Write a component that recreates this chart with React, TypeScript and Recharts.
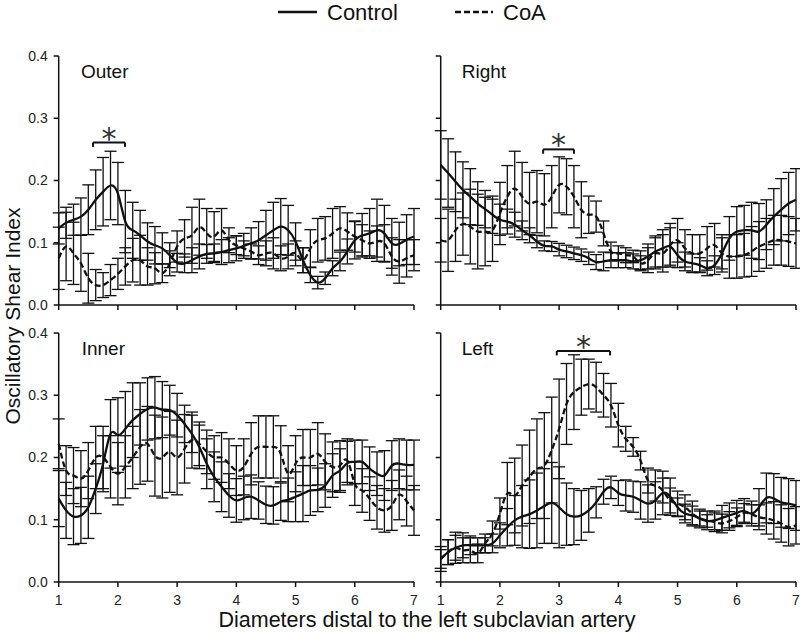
import { LineChart, Line, XAxis, YAxis, ErrorBar, ReferenceLine } from "recharts";

const FONT = '"Liberation Sans", Arial, sans-serif';
const INK = "#111";

// distance along the aorta, in diameters (one sample every 1/8 diameter)
const POSITIONS = [
  1, 1.125, 1.25, 1.375, 1.5, 1.625, 1.75, 1.875, 2, 2.125, 2.25, 2.375, 2.5,
  2.625, 2.75, 2.875, 3, 3.125, 3.25, 3.375, 3.5, 3.625, 3.75, 3.875, 4, 4.125,
  4.25, 4.375, 4.5, 4.625, 4.75, 4.875, 5, 5.125, 5.25, 5.375, 5.5, 5.625, 5.75,
  5.875, 6, 6.125, 6.25, 6.375, 6.5, 6.625, 6.75, 6.875, 7,
];
const X_TICKS = [1, 2, 3, 4, 5, 6, 7];
const Y_TICKS = [0, 0.1, 0.2, 0.3, 0.4];

// Outer
const outerControl = [0.123, 0.132, 0.137, 0.142, 0.153, 0.169, 0.182, 0.192, 0.179, 0.134, 0.12, 0.112, 0.102, 0.096, 0.091, 0.08, 0.068, 0.067, 0.072, 0.078, 0.082, 0.083, 0.085, 0.088, 0.091, 0.095, 0.099, 0.104, 0.112, 0.12, 0.126, 0.12, 0.102, 0.072, 0.048, 0.036, 0.043, 0.059, 0.07, 0.086, 0.104, 0.112, 0.115, 0.12, 0.115, 0.099, 0.098, 0.105, 0.11];
const outerControlErr = [0.025, 0.025, 0.025, 0.03, 0.04, 0.048, 0.055, 0.055, 0.05, 0.05, 0.045, 0.04, 0.03, 0.03, 0.025, 0.02, 0.015, 0.015, 0.02, 0.02, 0.015, 0.015, 0.02, 0.02, 0.02, 0.02, 0.025, 0.03, 0.04, 0.045, 0.045, 0.04, 0.03, 0.02, 0.012, 0.01, 0.01, 0.012, 0.015, 0.02, 0.03, 0.035, 0.04, 0.05, 0.045, 0.04, 0.035, 0.04, 0.045];
const outerCoA = [0.075, 0.094, 0.083, 0.067, 0.043, 0.032, 0.032, 0.04, 0.05, 0.062, 0.072, 0.072, 0.062, 0.059, 0.051, 0.067, 0.094, 0.107, 0.112, 0.125, 0.115, 0.11, 0.12, 0.104, 0.096, 0.091, 0.086, 0.08, 0.083, 0.083, 0.075, 0.078, 0.083, 0.072, 0.091, 0.104, 0.107, 0.115, 0.123, 0.118, 0.11, 0.104, 0.099, 0.102, 0.099, 0.078, 0.07, 0.075, 0.08];
const outerCoAErr = [0.05, 0.055, 0.05, 0.045, 0.04, 0.025, 0.02, 0.025, 0.025, 0.03, 0.035, 0.04, 0.03, 0.025, 0.015, 0.02, 0.025, 0.03, 0.045, 0.045, 0.04, 0.04, 0.035, 0.02, 0.015, 0.012, 0.012, 0.015, 0.02, 0.025, 0.02, 0.02, 0.02, 0.02, 0.03, 0.035, 0.035, 0.04, 0.035, 0.03, 0.025, 0.025, 0.02, 0.025, 0.03, 0.03, 0.035, 0.03, 0.025];

// Right
const rightControl = [0.225, 0.212, 0.198, 0.185, 0.174, 0.163, 0.154, 0.145, 0.137, 0.134, 0.129, 0.12, 0.112, 0.102, 0.095, 0.094, 0.089, 0.086, 0.083, 0.08, 0.075, 0.069, 0.07, 0.072, 0.072, 0.072, 0.07, 0.072, 0.078, 0.086, 0.091, 0.094, 0.08, 0.07, 0.067, 0.064, 0.059, 0.064, 0.083, 0.107, 0.118, 0.12, 0.12, 0.118, 0.129, 0.142, 0.153, 0.163, 0.169];
const rightControlErr = [0.055, 0.055, 0.048, 0.045, 0.045, 0.035, 0.03, 0.03, 0.025, 0.02, 0.02, 0.015, 0.012, 0.01, 0.008, 0.008, 0.01, 0.01, 0.01, 0.01, 0.01, 0.012, 0.015, 0.012, 0.012, 0.012, 0.012, 0.015, 0.02, 0.025, 0.03, 0.03, 0.02, 0.015, 0.015, 0.012, 0.012, 0.015, 0.025, 0.035, 0.04, 0.04, 0.045, 0.045, 0.04, 0.045, 0.05, 0.05, 0.05];
const rightCoA = [0.104, 0.104, 0.12, 0.13, 0.126, 0.118, 0.118, 0.12, 0.147, 0.174, 0.187, 0.174, 0.163, 0.166, 0.161, 0.174, 0.193, 0.19, 0.174, 0.153, 0.145, 0.142, 0.115, 0.086, 0.083, 0.08, 0.078, 0.067, 0.072, 0.083, 0.083, 0.096, 0.104, 0.091, 0.083, 0.083, 0.091, 0.096, 0.083, 0.078, 0.078, 0.08, 0.086, 0.094, 0.099, 0.104, 0.104, 0.102, 0.099];
const rightCoAErr = [0.035, 0.05, 0.05, 0.05, 0.06, 0.06, 0.055, 0.05, 0.05, 0.05, 0.06, 0.055, 0.05, 0.05, 0.05, 0.05, 0.045, 0.045, 0.05, 0.045, 0.03, 0.025, 0.02, 0.015, 0.012, 0.012, 0.01, 0.012, 0.02, 0.025, 0.03, 0.035, 0.035, 0.03, 0.03, 0.03, 0.035, 0.035, 0.03, 0.035, 0.035, 0.035, 0.04, 0.04, 0.04, 0.04, 0.04, 0.04, 0.04];

// Inner
const innerControl = [0.134, 0.115, 0.105, 0.107, 0.12, 0.15, 0.19, 0.238, 0.236, 0.246, 0.26, 0.27, 0.278, 0.28, 0.277, 0.276, 0.268, 0.254, 0.238, 0.217, 0.19, 0.169, 0.153, 0.139, 0.131, 0.135, 0.137, 0.131, 0.124, 0.123, 0.129, 0.132, 0.137, 0.142, 0.147, 0.148, 0.155, 0.171, 0.179, 0.191, 0.193, 0.193, 0.182, 0.174, 0.171, 0.187, 0.19, 0.188, 0.188];
const innerControlErr = [0.045, 0.045, 0.045, 0.045, 0.05, 0.04, 0.045, 0.055, 0.06, 0.06, 0.06, 0.05, 0.05, 0.05, 0.045, 0.04, 0.035, 0.03, 0.03, 0.035, 0.04, 0.04, 0.04, 0.035, 0.035, 0.035, 0.035, 0.03, 0.03, 0.03, 0.03, 0.035, 0.04, 0.045, 0.04, 0.035, 0.035, 0.035, 0.035, 0.035, 0.035, 0.035, 0.035, 0.035, 0.04, 0.04, 0.04, 0.04, 0.04];
const innerCoA = [0.222, 0.179, 0.171, 0.166, 0.179, 0.2, 0.2, 0.185, 0.174, 0.185, 0.2, 0.217, 0.222, 0.203, 0.2, 0.209, 0.2, 0.214, 0.228, 0.222, 0.209, 0.2, 0.2, 0.19, 0.179, 0.185, 0.206, 0.217, 0.217, 0.217, 0.206, 0.174, 0.19, 0.2, 0.2, 0.206, 0.193, 0.185, 0.187, 0.195, 0.158, 0.147, 0.134, 0.12, 0.115, 0.123, 0.14, 0.13, 0.115];
const innerCoAErr = [0.04, 0.04, 0.045, 0.045, 0.045, 0.05, 0.05, 0.05, 0.05, 0.05, 0.05, 0.06, 0.06, 0.065, 0.065, 0.065, 0.06, 0.055, 0.045, 0.035, 0.035, 0.035, 0.04, 0.04, 0.04, 0.045, 0.05, 0.05, 0.05, 0.05, 0.045, 0.045, 0.045, 0.045, 0.045, 0.05, 0.045, 0.04, 0.04, 0.035, 0.035, 0.035, 0.035, 0.035, 0.035, 0.04, 0.04, 0.04, 0.04];

// Left
const leftControl = [0.037, 0.048, 0.055, 0.059, 0.059, 0.059, 0.059, 0.062, 0.075, 0.088, 0.099, 0.105, 0.109, 0.115, 0.122, 0.127, 0.12, 0.109, 0.105, 0.107, 0.115, 0.128, 0.145, 0.152, 0.143, 0.139, 0.137, 0.131, 0.126, 0.131, 0.143, 0.137, 0.12, 0.11, 0.107, 0.102, 0.098, 0.099, 0.103, 0.107, 0.111, 0.114, 0.11, 0.12, 0.135, 0.134, 0.128, 0.126, 0.123];
const leftControlErr = [0.02, 0.02, 0.02, 0.02, 0.015, 0.012, 0.012, 0.015, 0.02, 0.03, 0.04, 0.05, 0.055, 0.06, 0.06, 0.065, 0.065, 0.05, 0.045, 0.04, 0.035, 0.025, 0.02, 0.018, 0.02, 0.025, 0.025, 0.03, 0.03, 0.03, 0.035, 0.03, 0.015, 0.015, 0.015, 0.012, 0.01, 0.015, 0.02, 0.02, 0.02, 0.02, 0.02, 0.03, 0.04, 0.04, 0.04, 0.04, 0.04];
const leftCoA = [0.037, 0.048, 0.055, 0.051, 0.051, 0.046, 0.062, 0.078, 0.11, 0.142, 0.139, 0.155, 0.169, 0.182, 0.187, 0.212, 0.246, 0.286, 0.305, 0.313, 0.318, 0.313, 0.3, 0.284, 0.252, 0.23, 0.217, 0.195, 0.163, 0.155, 0.147, 0.131, 0.126, 0.12, 0.11, 0.102, 0.099, 0.096, 0.094, 0.098, 0.104, 0.111, 0.109, 0.104, 0.102, 0.099, 0.094, 0.088, 0.091];
const leftCoAErr = [0.015, 0.02, 0.025, 0.02, 0.02, 0.015, 0.015, 0.02, 0.025, 0.05, 0.06, 0.065, 0.075, 0.08, 0.085, 0.085, 0.08, 0.065, 0.06, 0.045, 0.04, 0.04, 0.035, 0.035, 0.035, 0.02, 0.015, 0.015, 0.02, 0.025, 0.02, 0.02, 0.02, 0.02, 0.02, 0.015, 0.015, 0.015, 0.015, 0.015, 0.015, 0.015, 0.015, 0.02, 0.025, 0.03, 0.03, 0.03, 0.03];

// significance brackets: [from, to, height]
const outerSig = [1.58, 2.12, 0.261];
const rightSig = [2.73, 3.25, 0.25];
const leftSig = [2.96, 3.86, 0.371];

const rows = (c: number[], ce: number[], a: number[], ae: number[]) =>
  POSITIONS.map((x, i) => ({ x, c: c[i], ce: ce[i], a: a[i], ae: ae[i] }));

const axisLine = { stroke: INK, strokeWidth: 1.5 };
const tickStyle = { fill: "#222", fontSize: 14, fontFamily: FONT };
const blank = () => "";

function Panel({
  data,
  sig,
  left,
  top,
  showX,
  showY,
}: {
  data: ReturnType<typeof rows>;
  sig?: number[];
  left: number;
  top: number;
  showX: boolean;
  showY: boolean;
}) {
  const yw = showY ? 58.7 : 20.7;
  const width = showY ? 420 : 380;
  return (
    <div style={{ position: "absolute", left, top }}>
      <LineChart
        width={width}
        height={309}
        data={data}
        margin={{ top: 20, right: showY ? 6 : 4, bottom: 0, left: 0 }}
      >
        <XAxis
          dataKey="x"
          type="number"
          domain={[1, 7]}
          ticks={X_TICKS}
          interval={0}
          height={40}
          tickSize={5}
          tickMargin={8}
          axisLine={axisLine}
          tickLine={axisLine}
          tick={tickStyle}
          tickFormatter={showX ? undefined : blank}
        />
        <YAxis
          type="number"
          domain={[0, 0.4]}
          ticks={Y_TICKS}
          interval={0}
          width={yw}
          tickSize={5}
          tickMargin={6}
          axisLine={axisLine}
          tickLine={axisLine}
          tick={tickStyle}
          tickFormatter={showY ? (v: number) => v.toFixed(1) : blank}
        />
        <Line
          type="natural"
          dataKey="a"
          stroke={INK}
          strokeWidth={2.3}
          strokeDasharray="6 3"
          dot={false}
          isAnimationActive={false}
        >
          <ErrorBar dataKey="ae" width={6} stroke={INK} strokeWidth={1.3} direction="y" isAnimationActive={false} />
        </Line>
        <Line
          type="natural"
          dataKey="c"
          stroke={INK}
          strokeWidth={2.3}
          dot={false}
          isAnimationActive={false}
        >
          <ErrorBar dataKey="ce" width={6} stroke={INK} strokeWidth={1.3} direction="y" isAnimationActive={false} />
        </Line>
        {sig && (
          <ReferenceLine
            segment={[{ x: sig[0], y: sig[2] }, { x: sig[1], y: sig[2] }]}
            stroke={INK}
            strokeWidth={2}
            ifOverflow="visible"
            label={{ value: "*", position: "top", offset: -6, fontSize: 30, fill: "#333", fontFamily: '"DejaVu Sans", sans-serif' }}
          />
        )}
        {sig && (
          <ReferenceLine
            segment={[{ x: sig[0], y: sig[2] }, { x: sig[0], y: sig[2] - 0.007 }]}
            stroke={INK}
            strokeWidth={2}
          />
        )}
        {sig && (
          <ReferenceLine
            segment={[{ x: sig[1], y: sig[2] }, { x: sig[1], y: sig[2] - 0.007 }]}
            stroke={INK}
            strokeWidth={2}
          />
        )}
      </LineChart>
    </div>
  );
}

export default function App() {
  return (
    <div
      style={{
        position: "absolute",
        left: 0,
        top: 0,
        width: 800,
        height: 633,
        background: "#fff",
        overflow: "hidden",
        fontFamily: FONT,
      }}
    >
      <Panel data={rows(outerControl, outerControlErr, outerCoA, outerCoAErr)} sig={outerSig} left={0} top={36} showX={false} showY />
      <Panel data={rows(rightControl, rightControlErr, rightCoA, rightCoAErr)} sig={rightSig} left={420} top={36} showX={false} showY={false} />
      <Panel data={rows(innerControl, innerControlErr, innerCoA, innerCoAErr)} left={0} top={312.7} showX showY />
      <Panel data={rows(leftControl, leftControlErr, leftCoA, leftCoAErr)} sig={leftSig} left={420} top={312.7} showX showY={false} />

      <svg
        width={800}
        height={633}
        style={{ position: "absolute", left: 0, top: 0, pointerEvents: "none" }}
        fontFamily={FONT}
        fill="#111"
      >
        {/* legend */}
        <line x1={278} y1={12} x2={317} y2={12} stroke={INK} strokeWidth={2.5} />
        <text x={327} y={20} fontSize={22}>Control</text>
        <line x1={455} y1={12} x2={493} y2={12} stroke={INK} strokeWidth={2.5} strokeDasharray="6 3" />
        <text x={503} y={20} fontSize={22}>CoA</text>

        {/* panel names */}
        <text x={81} y={78} fontSize={19}>Outer</text>
        <text x={461.7} y={78} fontSize={19}>Right</text>
        <text x={81.7} y={355} fontSize={19}>Inner</text>
        <text x={461.7} y={355} fontSize={19}>Left</text>

        {/* axis titles */}
        <text x={20} y={316} fontSize={21} textAnchor="middle" transform="rotate(-90 20 316)">
          Oscillatory Shear Index
        </text>
        <text x={427} y={627} fontSize={21.5} textAnchor="middle">
          Diameters distal to the left subclavian artery
        </text>
      </svg>
    </div>
  );
}
